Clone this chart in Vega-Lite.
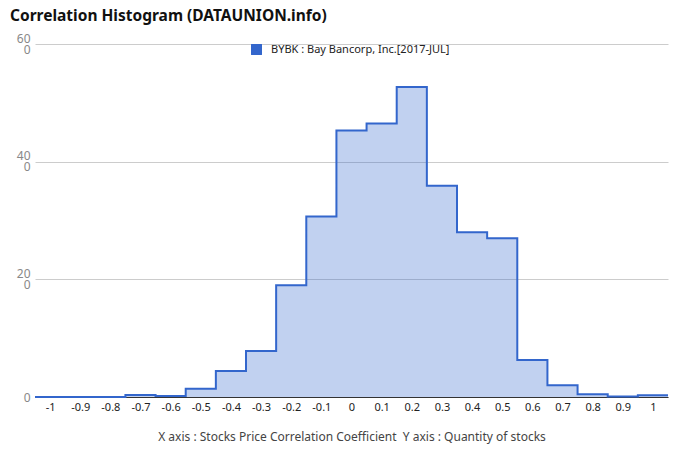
{
  "$schema": "https://vega.github.io/schema/vega-lite/v6.json",
  "autosize": "none",
  "width": 633,
  "height": 353,
  "padding": {"left": 35, "top": 44, "right": 12, "bottom": 65},
  "background": "white",
  "title": {
    "text": "Correlation Histogram (DATAUNION.info)",
    "anchor": "start",
    "frame": "group",
    "dx": -25,
    "offset": 8,
    "font": "Noto Sans",
    "fontSize": 15.5,
    "fontWeight": "bold",
    "color": "#111111"
  },
  "config": {
    "view": {"stroke": null},
    "font": "Noto Sans"
  },
  "data": {
    "values": [
      {"lo": -1.05, "count": 0, "series": "BYBK : Bay Bancorp, Inc.[2017-JUL]"},
      {"lo": -0.95, "count": 0, "series": "BYBK : Bay Bancorp, Inc.[2017-JUL]"},
      {"lo": -0.85, "count": 0, "series": "BYBK : Bay Bancorp, Inc.[2017-JUL]"},
      {"lo": -0.75, "count": 0.35, "series": "BYBK : Bay Bancorp, Inc.[2017-JUL]"},
      {"lo": -0.65, "count": 0.15, "series": "BYBK : Bay Bancorp, Inc.[2017-JUL]"},
      {"lo": -0.55, "count": 1.4, "series": "BYBK : Bay Bancorp, Inc.[2017-JUL]"},
      {"lo": -0.45, "count": 4.4, "series": "BYBK : Bay Bancorp, Inc.[2017-JUL]"},
      {"lo": -0.35, "count": 7.8, "series": "BYBK : Bay Bancorp, Inc.[2017-JUL]"},
      {"lo": -0.25, "count": 19.0, "series": "BYBK : Bay Bancorp, Inc.[2017-JUL]"},
      {"lo": -0.15, "count": 30.7, "series": "BYBK : Bay Bancorp, Inc.[2017-JUL]"},
      {"lo": -0.05, "count": 45.3, "series": "BYBK : Bay Bancorp, Inc.[2017-JUL]"},
      {"lo": 0.05, "count": 46.5, "series": "BYBK : Bay Bancorp, Inc.[2017-JUL]"},
      {"lo": 0.15, "count": 52.7, "series": "BYBK : Bay Bancorp, Inc.[2017-JUL]"},
      {"lo": 0.25, "count": 35.9, "series": "BYBK : Bay Bancorp, Inc.[2017-JUL]"},
      {"lo": 0.35, "count": 28.0, "series": "BYBK : Bay Bancorp, Inc.[2017-JUL]"},
      {"lo": 0.45, "count": 27.0, "series": "BYBK : Bay Bancorp, Inc.[2017-JUL]"},
      {"lo": 0.55, "count": 6.3, "series": "BYBK : Bay Bancorp, Inc.[2017-JUL]"},
      {"lo": 0.65, "count": 2.0, "series": "BYBK : Bay Bancorp, Inc.[2017-JUL]"},
      {"lo": 0.75, "count": 0.45, "series": "BYBK : Bay Bancorp, Inc.[2017-JUL]"},
      {"lo": 0.85, "count": 0.1, "series": "BYBK : Bay Bancorp, Inc.[2017-JUL]"},
      {"lo": 0.95, "count": 0.3, "series": "BYBK : Bay Bancorp, Inc.[2017-JUL]"},
      {"lo": 1.05, "count": 0.3, "series": "BYBK : Bay Bancorp, Inc.[2017-JUL]"}
    ]
  },
  "encoding": {
    "x": {
      "field": "lo",
      "type": "quantitative",
      "scale": {"domain": [-1.05, 1.05], "nice": false, "zero": false},
      "axis": {
        "values": [-1, -0.9, -0.8, -0.7, -0.6, -0.5, -0.4, -0.3, -0.2, -0.1, 0, 0.1, 0.2, 0.3, 0.4, 0.5, 0.6, 0.7, 0.8, 0.9, 1],
        "labelExpr": "replace(format(datum.value, '.1~f'), '\u2212', '-')",
        "title": "X axis : Stocks Price Correlation Coefficient\u00a0 Y axis : Quantity of stocks",
        "titleFont": "Noto Sans",
        "titleFontSize": 12,
        "titleFontWeight": "normal",
        "titleColor": "#444444",
        "titlePadding": 19,
        "labelFont": "Noto Sans",
        "labelFontSize": 11,
        "labelColor": "#222222",
        "labelPadding": 4,
        "ticks": false,
        "grid": false,
        "domain": true,
        "domainColor": "#333333",
        "domainWidth": 1
      }
    },
    "y": {
      "field": "count",
      "type": "quantitative",
      "scale": {"domain": [0, 60], "nice": false},
      "axis": {
        "values": [0, 20, 40, 60],
        "labelExpr": "datum.value == 0 ? '0' : [format(datum.value, 'd'), '0']",
        "labelOffset": {"condition": {"test": "datum.value == 0", "value": 0}, "value": -6},
        "title": null,
        "labelFont": "Noto Sans",
        "labelFontSize": 12,
        "labelColor": "#888888",
        "labelPadding": 5,
        "labelLineHeight": 11,
        "ticks": false,
        "domain": false,
        "grid": true,
        "gridColor": "#CCCCCC",
        "gridWidth": 1
      }
    }
  },
  "layer": [
    {
      "mark": {"type": "area", "interpolate": "step-after", "color": "#3366CC", "fillOpacity": 0.3},
      "encoding": {}
    },
    {
      "mark": {"type": "line", "interpolate": "step-after", "strokeWidth": 2},
      "encoding": {
        "color": {
          "field": "series",
          "type": "nominal",
          "scale": {"range": ["#3366CC"]},
          "legend": {
            "orient": "none",
            "legendX": 216,
            "legendY": 0,
            "title": null,
            "symbolType": "square",
            "symbolSize": 120,
            "symbolFillColor": "#3366CC",
            "symbolStrokeWidth": 0,
            "labelFont": "Noto Sans",
            "labelFontSize": 11,
            "labelColor": "#222222",
            "labelOffset": 9,
            "labelLimit": 400
          }
        }
      }
    }
  ]
}
